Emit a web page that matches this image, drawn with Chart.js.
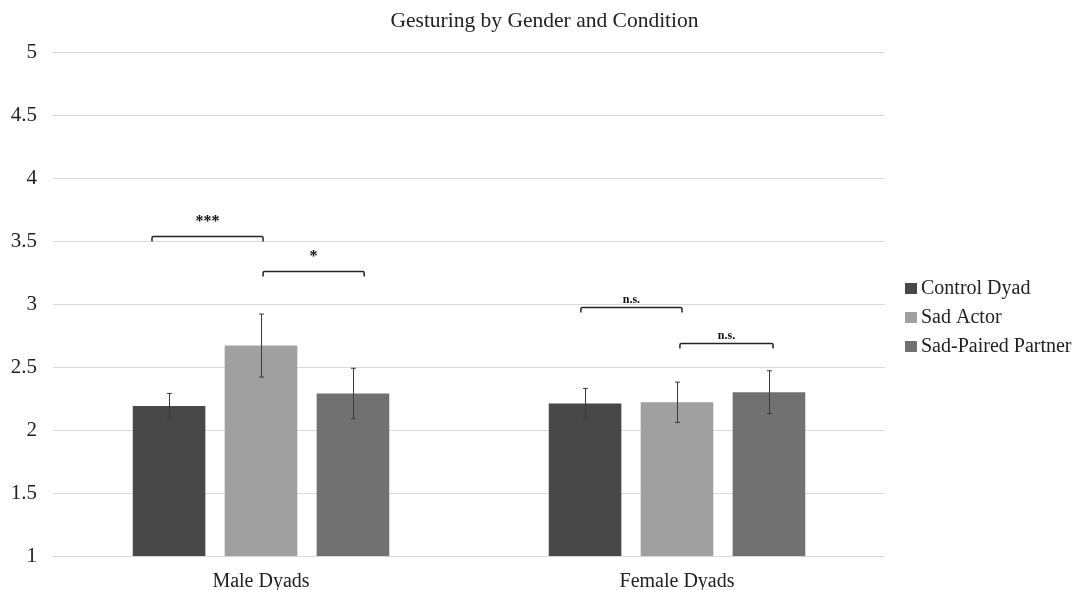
<!DOCTYPE html>
<html>
<head>
<meta charset="utf-8">
<script src="https://cdn.jsdelivr.net/npm/chart.js@4.4.1/dist/chart.umd.min.js"></script>
<style>
    html, body { margin: 0; padding: 0; background: #fff; }
    #wrap { width: 1075px; height: 590px; }
</style>
</head>
<body>
<div id="wrap"><canvas id="myChart" width="1075" height="590"></canvas></div>
<script>
// ---------------- data ----------------
const categories = ['Male Dyads', 'Female Dyads'];
const seriesNames = ['Control Dyad', 'Sad Actor', 'Sad-Paired Partner'];
const controlDyad = [2.19, 2.21];
const sadActor = [2.67, 2.22];
const sadPaired = [2.29, 2.30];
const controlErr = [0.10, 0.12];
const sadActorErr = [0.25, 0.16];
const sadPairedErr = [0.20, 0.17];
const yTicks = [1, 1.5, 2, 2.5, 3, 3.5, 4, 4.5, 5];

// significance brackets: category index, start/end offset (in category widths), height, label
const bracketCats = [0, 0, 1, 1];
const bracketFrom = [-0.262, 0.005, -0.231, 0.007];
const bracketTo = [0.005, 0.248, 0.012, 0.231];
const bracketY = [3.54, 3.26, 2.98, 2.69];
const bracketLabels = ['***', '*', 'n.s.', 'n.s.'];

const chartTitle = 'Gesturing by Gender and Condition';
const colors = ['#484848', '#a0a0a0', '#717171'];
const serif = "'Liberation Serif', 'DejaVu Serif', serif";

// ---------------- error bars ----------------
const errorBars = {
    id: 'errorBars',
    afterDatasetsDraw(chart) {
        const ctx = chart.ctx;
        const y = chart.scales.y;
        ctx.save();
        ctx.strokeStyle = '#3a3a3a';
        ctx.lineWidth = 1;
        chart.data.datasets.forEach((ds, i) => {
            const meta = chart.getDatasetMeta(i);
            meta.data.forEach((bar, j) => {
                const v = ds.data[j];
                const e = ds.errors[j];
                const top = y.getPixelForValue(v + e);
                const bot = y.getPixelForValue(v - e);
                const x = Math.round(bar.x) + 0.5;
                ctx.beginPath();
                ctx.moveTo(x, top);
                ctx.lineTo(x, bot);
                ctx.moveTo(x - 2.5, top);
                ctx.lineTo(x + 2.5, top);
                ctx.moveTo(x - 2.5, bot);
                ctx.lineTo(x + 2.5, bot);
                ctx.stroke();
            });
        });
        ctx.restore();
    }
};

// ---------------- brackets ----------------
const brackets = {
    id: 'brackets',
    afterDatasetsDraw(chart) {
        const ctx = chart.ctx;
        const xs = chart.scales.x;
        const ys = chart.scales.y;
        const catW = xs.getPixelForValue(1) - xs.getPixelForValue(0);
        ctx.save();
        ctx.strokeStyle = '#222';
        ctx.fillStyle = '#111';
        ctx.lineWidth = 1.5;
        bracketLabels.forEach((label, i) => {
            const c = xs.getPixelForValue(bracketCats[i]);
            const x1 = c + bracketFrom[i] * catW;
            const x2 = c + bracketTo[i] * catW;
            const yy = Math.round(ys.getPixelForValue(bracketY[i])) + 0.5;
            ctx.beginPath();
            ctx.moveTo(x1, yy + 5);
            ctx.lineTo(x1, yy + 1.5);
            ctx.quadraticCurveTo(x1, yy, x1 + 1.5, yy);
            ctx.lineTo(x2 - 1.5, yy);
            ctx.quadraticCurveTo(x2, yy, x2, yy + 1.5);
            ctx.lineTo(x2, yy + 5);
            ctx.stroke();
            ctx.textAlign = 'center';
            ctx.textBaseline = 'alphabetic';
            if (label.indexOf('*') >= 0) {
                ctx.font = 'bold 16px ' + serif;
                ctx.fillText(label, (x1 + x2) / 2, yy - 11);
            } else {
                ctx.font = 'bold 12px ' + serif;
                ctx.fillText(label, (x1 + x2) / 2, yy - 5);
            }
        });
        ctx.restore();
    }
};

// ---------------- title + legend (right side) ----------------
const titleAndLegend = {
    id: 'titleAndLegend',
    afterDraw(chart) {
        const ctx = chart.ctx;
        ctx.save();
        ctx.fillStyle = '#222';
        ctx.font = '21.5px ' + serif;
        ctx.textAlign = 'center';
        ctx.textBaseline = 'middle';
        ctx.fillText(chartTitle, chart.width / 2 + 7, 21);

        const left = chart.chartArea.right + 20;
        ctx.font = '20px ' + serif;
        ctx.textAlign = 'left';
        chart.data.datasets.forEach((ds, i) => {
            const cy = 288 + i * 29;
            ctx.fillStyle = ds.backgroundColor;
            ctx.fillRect(left, cy - 5, 12, 11);
            ctx.fillStyle = '#222';
            ctx.fillText(ds.label, left + 16, cy + 1);
        });
        ctx.restore();
    }
};

const seriesValues = [controlDyad, sadActor, sadPaired];
const seriesErrors = [controlErr, sadActorErr, sadPairedErr];

new Chart(document.getElementById('myChart'), {
    type: 'bar',
    data: {
        labels: categories,
        datasets: seriesNames.map((name, i) => ({
            label: name,
            data: seriesValues[i],
            errors: seriesErrors[i],
            backgroundColor: colors[i],
            borderColor: colors[i],
            borderWidth: 0,
            categoryPercentage: 0.663,
            barPercentage: 0.79
        }))
    },
    options: {
        responsive: false,
        animation: false,
        devicePixelRatio: 1,
        layout: { padding: { left: 0, right: 190, top: 52, bottom: 0 } },
        plugins: {
            title: { display: false },
            legend: { display: false },
            tooltip: { enabled: false }
        },
        scales: {
            x: {
                grid: { display: false },
                border: { display: false },
                afterFit: axis => { axis.height = 34; },
                ticks: { color: '#222', font: { family: serif, size: 20 }, padding: 6 }
            },
            y: {
                min: 1,
                max: 5,
                afterBuildTicks: axis => { axis.ticks = yTicks.map(v => ({ value: v })); },
                afterFit: axis => { axis.width = 53; },
                grid: { color: '#d9d9d9', lineWidth: 1, drawTicks: false },
                border: { display: false },
                ticks: {
                    color: '#222',
                    font: { family: serif, size: 21 },
                    padding: 16,
                    callback: v => String(v)
                }
            }
        }
    },
    plugins: [errorBars, brackets, titleAndLegend]
});
</script>
</body>
</html>
